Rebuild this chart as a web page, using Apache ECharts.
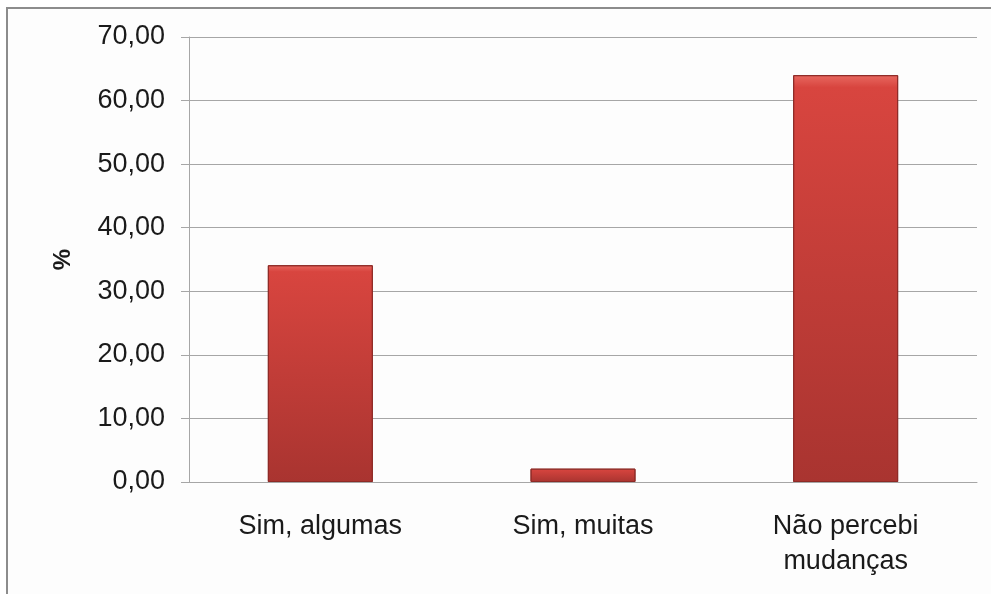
<!DOCTYPE html>
<html>
<head>
<meta charset="utf-8">
<script src="https://cdn.jsdelivr.net/npm/echarts@6/dist/echarts.min.js"></script>
<style>
  html, body { margin: 0; padding: 0; background: #ffffff; }
  #frame {
    position: absolute; left: 6px; top: 7px; width: 990px; height: 600px;
    border-left: 2px solid #8c8c8c; border-top: 2px solid #8c8c8c;
    background: #fdfdfd;
  }
  #chart { position: absolute; left: 0; top: 0; width: 991px; height: 594px; }
</style>
</head>
<body>
<div id="frame"></div>
<div id="chart"></div>
<script>
// respostas
var categorias = ["Sim, algumas", "Sim, muitas", "Não percebi\nmudanças"];
var percentuais = [34.1, 2.1, 64.0];
var yTicks = [0, 10, 20, 30, 40, 50, 60, 70];

var chart = echarts.init(document.getElementById("chart"));

chart.setOption({
  backgroundColor: "transparent",
  grid: { left: 189, right: 14, top: 37, bottom: 112 },
  xAxis: {
    type: "category",
    data: categorias,
    axisLine: { lineStyle: { color: "#a6a6a6", width: 1 } },
    axisTick: { show: false },
    axisLabel: {
      color: "#1a1a1a",
      fontFamily: "Liberation Sans, Arial, sans-serif",
      fontSize: 27,
      lineHeight: 35,
      margin: 27,
    },
  },
  yAxis: {
    type: "value",
    min: yTicks[0],
    max: yTicks[yTicks.length - 1],
    interval: 10,
    name: "%",
    nameLocation: "middle",
    nameGap: 114,
    nameRotate: 90,
    nameTextStyle: {
      color: "#1a1a1a",
      fontFamily: "Liberation Sans, Arial, sans-serif",
      fontSize: 24,
      fontWeight: "bold",
    },
    axisLine: { show: true, lineStyle: { color: "#a6a6a6", width: 1 } },
    axisTick: { show: true, length: 8, lineStyle: { color: "#a6a6a6" } },
    splitLine: { lineStyle: { color: "#a6a6a6", width: 1 } },
    axisLabel: {
      color: "#1a1a1a",
      fontFamily: "Liberation Sans, Arial, sans-serif",
      fontSize: 27,
      margin: 24,
      formatter: function (v) {
        return v.toFixed(2).replace(".", ",");
      },
    },
  },
  series: [
    {
      type: "bar",
      data: percentuais,
      barWidth: 105,
      itemStyle: {
        color: new echarts.graphic.LinearGradient(0, 0, 0, 1, [
          { offset: 0, color: "#e86860" },
          { offset: 0.03, color: "#d8453f" },
          { offset: 1, color: "#a93430" },
        ]),
        borderColor: "#8e2a26",
        borderWidth: 1,
      },
    },
  ],
});
</script>
</body>
</html>
